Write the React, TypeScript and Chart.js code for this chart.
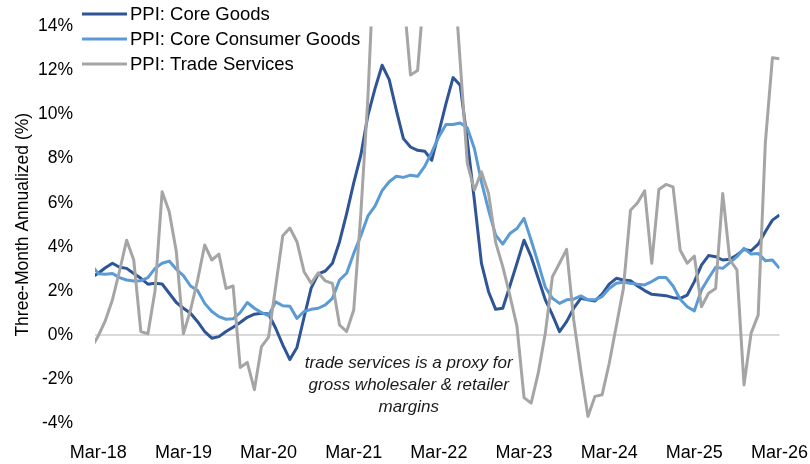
import React, { useEffect, useRef } from "react";
import { Chart, registerables } from "chart.js";

Chart.register(...registerables);

// Monthly categories: Feb-18 (index 0) through Mar-26 (index 97)
const MONTH_NAMES = ["Jan", "Feb", "Mar", "Apr", "May", "Jun", "Jul", "Aug", "Sep", "Oct", "Nov", "Dec"];
const months: string[] = [];
for (let i = 0; i < 98; i++) {
  const m = (1 + i) % 12;
  const y = 18 + Math.floor((1 + i) / 12);
  months.push(`${MONTH_NAMES[m]}-${y}`);
}

const tickLabels = ["Mar-18", "Mar-19", "Mar-20", "Mar-21", "Mar-22", "Mar-23", "Mar-24", "Mar-25", "Mar-26"];

const coreGoods = [
  2.6, 2.8, 3.05, 3.25, 3.07, 3.02, 2.79, 2.57, 2.3, 2.34,
  2.31, 1.89, 1.47, 1.21, 0.98, 0.6, 0.15, -0.15, -0.08, 0.15,
  0.35, 0.56, 0.8, 0.94, 0.98, 0.95, 0.3, -0.45, -1.12, -0.57,
  0.8, 2.12, 2.77, 2.9, 3.25, 4.23, 5.51, 6.9, 8.16, 9.97,
  11.18, 12.24, 11.59, 10.2, 8.91, 8.53, 8.38, 8.34, 7.93, 9.2,
  10.5, 11.68, 11.33, 8.84, 6.12, 3.25, 1.96, 1.16, 1.21, 2.22,
  3.25, 4.3, 3.55, 2.57, 1.59, 0.91, 0.15, 0.6, 1.21, 1.66,
  1.59, 1.54, 1.85, 2.3, 2.57, 2.49, 2.46, 2.22, 2.01, 1.84,
  1.81, 1.78, 1.69, 1.66, 1.81, 2.42, 3.17, 3.6, 3.55, 3.4,
  3.43, 3.63, 3.88, 3.82, 4.12, 4.68, 5.21, 5.44,
];

const coreConsumerGoods = [
  3.2, 2.78, 2.75, 2.79, 2.6, 2.49, 2.45, 2.46, 2.6, 3.02,
  3.25, 3.35, 2.98, 2.69, 2.22, 2.01, 1.43, 1.06, 0.83, 0.71,
  0.73, 1.01, 1.47, 1.21, 1.01, 0.88, 1.5, 1.32, 1.3, 0.75,
  1.06, 1.16, 1.21, 1.36, 1.66, 2.49, 2.8, 3.7, 4.5, 5.4,
  5.85, 6.55, 6.95, 7.2, 7.15, 7.25, 7.2, 7.65, 8.3, 9.0,
  9.55, 9.55, 9.62, 9.4, 8.46, 6.95, 5.66, 4.53, 4.12, 4.6,
  4.83, 5.29, 4.3, 3.25, 2.16, 1.66, 1.43, 1.59, 1.62, 1.77,
  1.59, 1.59, 1.74, 2.11, 2.34, 2.39, 2.34, 2.3, 2.27, 2.42,
  2.61, 2.61, 2.22, 1.62, 1.28, 1.09, 2.04, 2.57, 3.07, 3.02,
  3.28, 3.55, 3.93, 3.67, 3.7, 3.37, 3.4, 3.02,
];

const tradeServices = [
  -0.6, -0.05, 0.65, 1.6, 2.9, 4.3, 3.4, 0.15, 0.05, 2.0,
  6.5, 5.59, 3.78, 0.05, 1.13, 2.49, 4.08, 3.4, 3.67, 2.11,
  2.22, -1.48, -1.25, -2.49, -0.53, -0.1, 2.2, 4.5, 4.85, 4.23,
  2.87, 2.34, 2.82, 2.45, 2.34, 0.45, 0.15, 1.13, 5.5, 10.8,
  18.0, 22.0, 24.0, 19.0, 15.5, 11.8, 12.0, 16.0, 20.0, 22.0,
  21.0, 17.0, 12.4, 7.8, 6.57, 7.4, 6.42, 4.2, 3.1, 1.8,
  0.4, -2.85, -3.1, -1.74, 0.08, 2.64, 3.25, 3.88, 0.68, -1.59,
  -3.7, -2.79, -2.72, -1.3, 0.4, 2.1, 5.66, 6.0, 6.54, 3.25,
  6.6, 6.83, 6.72, 3.85, 3.25, 3.58, 1.28, 1.89, 2.11, 6.42,
  3.4, 2.95, -2.27, 0.08, 0.91, 8.69, 12.58, 12.54,
];

const seriesLabels = ["PPI: Core Goods", "PPI: Core Consumer Goods", "PPI: Trade Services"];
const noteLines = ["trade services is a proxy for", "gross wholesaler & retailer", "margins"];

const FONT = '"Liberation Sans", Arial, Helvetica, sans-serif';
const CLEAR = "rgba(0,0,0,0)";

const overlayPlugin = {
  id: "overlay",
  afterDraw(chart: any) {
    const { ctx } = chart;
    ctx.save();
    // legend (top-left, overlapping plot)
    chart.data.datasets.forEach((ds: any, i: number) => {
      const y = 14 + i * 25;
      ctx.strokeStyle = ds.borderColor;
      ctx.lineWidth = 3;
      ctx.lineCap = "butt";
      ctx.beginPath();
      ctx.moveTo(82, y);
      ctx.lineTo(127, y);
      ctx.stroke();
      ctx.fillStyle = "#000";
      ctx.font = `18.5px ${FONT}`;
      ctx.textAlign = "left";
      ctx.textBaseline = "middle";
      ctx.fillText(ds.label, 130, y + 1);
    });
    // annotation
    const xs = chart.scales.x;
    const ys = chart.scales.y;
    const cx = xs.getPixelForValue(44.75);
    const y0 = ys.getPixelForValue(-1.27);
    ctx.font = `italic 17px ${FONT}`;
    ctx.textAlign = "center";
    ctx.textBaseline = "middle";
    ctx.fillStyle = "#1a1a1a";
    noteLines.forEach((t, j) => ctx.fillText(t, cx, y0 + j * 22));
    ctx.restore();
  },
};

export default function App() {
  const ref = useRef<HTMLCanvasElement | null>(null);

  useEffect(() => {
    if (!ref.current) return;
    const toXY = (arr: number[]) => arr.map((y, i) => ({ x: i, y }));
    const chart: any = new Chart(ref.current, {
      type: "line",
      data: {
        datasets: [
          { label: seriesLabels[0], data: toXY(coreGoods), borderColor: "#2F5597", borderWidth: 3, order: 3 },
          { label: seriesLabels[1], data: toXY(coreConsumerGoods), borderColor: "#5B9BD5", borderWidth: 3, order: 2 },
          { label: seriesLabels[2], data: toXY(tradeServices), borderColor: "#A5A5A5", borderWidth: 3, order: 1 },
        ],
      },
      options: {
        responsive: false,
        animation: false,
        events: [],
        layout: { padding: { left: 0, right: 30.5, top: 26.5, bottom: 0 } },
        elements: {
          point: { radius: 0 },
          line: { tension: 0, borderJoinStyle: "round", fill: false },
        },
        plugins: {
          legend: { display: false },
          tooltip: { enabled: false },
        },
        scales: {
          x: {
            type: "linear",
            min: 0.54,
            max: 97,
            grid: { display: false, drawTicks: true, tickLength: 19 },
            border: { display: false },
            afterBuildTicks: (s: any) => {
              s.ticks = tickLabels.map((l) => ({ value: months.indexOf(l) }));
            },
            ticks: {
              autoSkip: false,
              maxRotation: 0,
              minRotation: 0,
              padding: 0,
              color: "#000",
              font: { family: FONT, size: 18 },
              callback: (v: any) => months[Math.round(Number(v))],
            },
            afterFit: (s: any) => {
              s.height = 41;
            },
          },
          y: {
            min: -4,
            max: 14,
            grid: {
              drawTicks: true,
              tickLength: 22,
              tickColor: CLEAR,
              color: (c: any) => (c.tick && c.tick.value === 0 ? "#d9d9d9" : CLEAR),
              lineWidth: 2,
            },
            border: { display: false },
            ticks: {
              stepSize: 2,
              padding: 0,
              color: "#000",
              font: { family: FONT, size: 17.5 },
              callback: (v: any) => `${v}%`,
            },
            title: {
              display: true,
              text: "Three-Month Annualized (%)",
              color: "#000",
              font: { family: FONT, size: 17.5 },
              padding: { top: 12.5, bottom: 0 },
            },
            afterFit: (s: any) => {
              s.width = 95;
            },
          },
        },
      },
      plugins: [overlayPlugin],
    });

    return () => chart.destroy();
  }, []);

  return (
    <div style={{ position: "fixed", left: 0, top: 0, width: 810, height: 464, background: "#fff" }}>
      <canvas ref={ref} width={810} height={464} style={{ display: "block" }} />
    </div>
  );
}
